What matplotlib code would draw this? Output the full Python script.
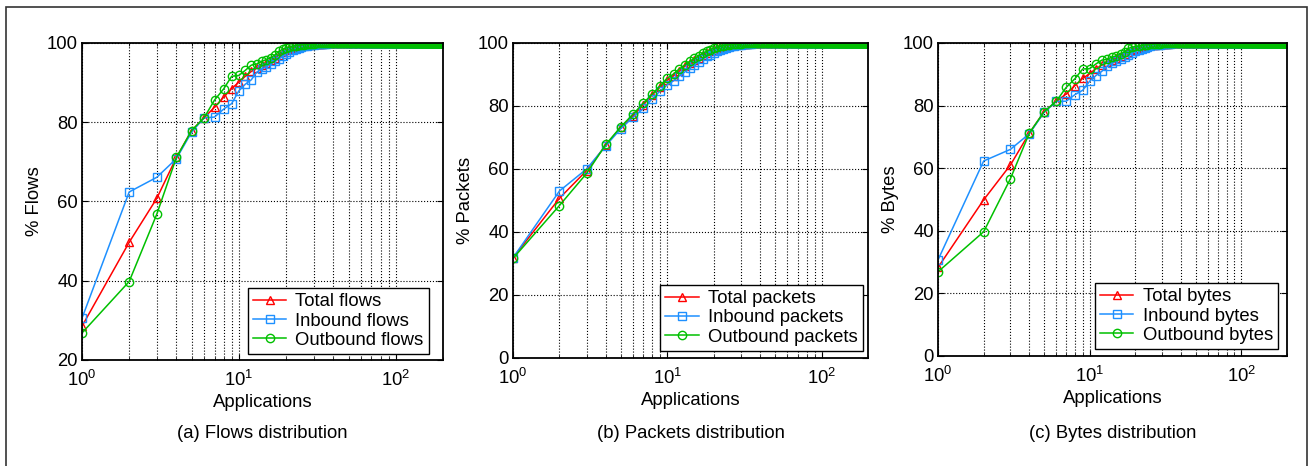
import matplotlib
matplotlib.use("Agg")
import matplotlib.pyplot as plt
from matplotlib.patches import Rectangle

plt.rcParams['font.family'] = ['Liberation Sans', 'DejaVu Sans']
plt.rcParams['mathtext.default'] = 'regular'

# number of applications (x = 1..N)
n_apps = 200
tail_value = 100.0     # values past the first 40 apps sit at 100 %

# flows distribution (cumulative %)
total_flows = [28.5, 49.7, 60.8, 71.1, 77.9, 81.1, 83.8, 86.3, 88.5, 90.1,
               91.6, 92.8, 93.7, 94.5, 95.0, 95.7, 96.3, 97.0, 97.6, 98.2,
               98.5, 98.8, 99.0, 99.2, 99.3, 99.4, 99.5, 99.6, 99.65, 99.7,
               99.75, 99.8, 99.82, 99.85, 99.87, 99.9, 99.92, 99.94, 99.96, 99.98]
inbound_flows = [30.5, 62.4, 66.1, 70.8, 77.5, 81.1, 81.3, 83.3, 84.7, 87.9,
                 89.6, 90.7, 92.6, 93.4, 94.0, 94.7, 95.4, 96.0, 96.6, 97.3,
                 97.8, 98.2, 98.5, 98.8, 99.0, 99.2, 99.3, 99.4, 99.5, 99.6,
                 99.65, 99.7, 99.75, 99.8, 99.83, 99.86, 99.9, 99.92, 99.95, 99.97]
outbound_flows = [26.8, 39.8, 56.8, 71.1, 77.9, 81.1, 85.6, 88.4, 91.6, 91.8,
                  93.1, 94.4, 94.7, 95.4, 95.8, 96.3, 97.0, 97.9, 98.4, 98.8,
                  99.0, 99.2, 99.35, 99.45, 99.55, 99.6, 99.7, 99.75, 99.8, 99.85,
                  99.87, 99.9, 99.92, 99.94, 99.95, 99.96, 99.97, 99.98, 99.99, 100.0]

# packets distribution
total_packets = [31.8, 50.7, 59.5, 67.6, 73.2, 76.9, 80.4, 83.6, 86.0, 88.2,
                 89.6, 91.1, 92.6, 93.6, 94.6, 95.3, 96.2, 96.8, 97.5, 97.9,
                 98.3, 98.6, 98.9, 99.1, 99.3, 99.4, 99.5, 99.6, 99.65, 99.7,
                 99.75, 99.8, 99.83, 99.86, 99.88, 99.9, 99.92, 99.94, 99.96, 99.98]
inbound_packets = [31.8, 53.0, 60.0, 67.4, 72.8, 76.4, 79.2, 82.3, 84.8, 86.7,
                   88.0, 89.6, 90.8, 92.2, 93.1, 94.1, 94.9, 95.8, 96.3, 96.8,
                   97.3, 97.7, 98.1, 98.4, 98.7, 98.9, 99.1, 99.25, 99.4, 99.5,
                   99.6, 99.65, 99.7, 99.75, 99.8, 99.84, 99.88, 99.92, 99.95, 99.97]
outbound_packets = [31.6, 48.4, 58.6, 67.8, 73.4, 77.4, 80.9, 83.8, 86.4, 88.8,
                    90.2, 91.8, 93.0, 94.2, 95.1, 96.0, 96.8, 97.3, 97.9, 98.3,
                    98.6, 98.9, 99.1, 99.3, 99.45, 99.55, 99.65, 99.7, 99.75, 99.8,
                    99.84, 99.87, 99.9, 99.92, 99.94, 99.95, 99.96, 99.97, 99.98, 99.99]

# bytes distribution
total_bytes = [28.3, 49.9, 61.0, 71.2, 78.0, 81.3, 83.7, 86.4, 88.7, 90.2,
               91.8, 92.9, 93.8, 94.6, 95.2, 95.8, 96.4, 97.1, 97.7, 98.2,
               98.5, 98.8, 99.0, 99.2, 99.3, 99.4, 99.5, 99.6, 99.65, 99.7,
               99.75, 99.8, 99.82, 99.85, 99.87, 99.9, 99.92, 99.94, 99.96, 99.98]
inbound_bytes = [30.7, 62.3, 66.0, 71.0, 77.8, 81.3, 81.4, 83.5, 84.9, 87.8,
                 89.6, 90.9, 92.6, 93.5, 94.2, 94.9, 95.5, 96.1, 96.7, 97.3,
                 97.8, 98.2, 98.5, 98.8, 99.0, 99.2, 99.3, 99.4, 99.5, 99.6,
                 99.65, 99.7, 99.75, 99.8, 99.83, 99.86, 99.9, 99.92, 99.95, 99.97]
outbound_bytes = [26.9, 39.7, 56.6, 71.2, 78.0, 81.3, 85.8, 88.6, 91.7, 91.8,
                  93.3, 94.5, 94.8, 95.5, 95.9, 96.5, 97.2, 98.3, 98.6, 98.9,
                  99.0, 99.2, 99.35, 99.45, 99.55, 99.6, 99.7, 99.75, 99.8, 99.85,
                  99.87, 99.9, 99.92, 99.94, 99.95, 99.96, 99.97, 99.98, 99.99, 100.0]

panel_names = ['flows', 'packets', 'bytes']
y_labels = ['% Flows', '% Packets', '% Bytes']
captions = ['(a) Flows distribution', '(b) Packets distribution', '(c) Bytes distribution']
y_mins = [20, 0, 0]

RED = '#ff0000'
BLUE = '#1e90ff'
GREEN = '#00c000'
FS = 13.3


def full_series(head):
    # head values followed by the saturated part of the curve
    return head + [tail_value] * (n_apps - len(head))


apps = list(range(1, n_apps + 1))
series = [
    (total_flows, inbound_flows, outbound_flows),
    (total_packets, inbound_packets, outbound_packets),
    (total_bytes, inbound_bytes, outbound_bytes),
]

positions = [
    [0.0625, 0.2275, 0.2754, 0.6803],
    [0.3913, 0.2318, 0.2708, 0.6760],
    [0.7155, 0.2361, 0.2662, 0.6717],
]
legend_anchor = [(0.961, 0.019), (0.985, 0.023), (0.974, 0.022)]

fig = plt.figure(figsize=(13.11, 4.66), dpi=100)

for i in range(3):
    ax = fig.add_axes(positions[i])
    tot, inb, outb = series[i]
    name = panel_names[i]
    ax.plot(apps, full_series(tot), '-^', color=RED, mfc='none', ms=6, lw=1.1,
            mew=1.0, label='Total ' + name)
    ax.plot(apps, full_series(inb), '-s', color=BLUE, mfc='none', ms=6, lw=1.1,
            mew=1.0, label='Inbound ' + name)
    ax.plot(apps, full_series(outb), '-o', color=GREEN, mfc='none', ms=6, lw=1.1,
            mew=1.0, label='Outbound ' + name)

    ax.set_xscale('log')
    ax.set_xlim(1, n_apps)
    ax.set_ylim(y_mins[i], 100)
    ax.set_yticks(range(y_mins[i], 101, 20))
    ax.set_xticks([1, 10, 100])
    ax.set_xticklabels(['$10^0$', '$10^1$', '$10^2$'])

    ax.grid(True, which='major', color='black', ls=':', lw=0.8)
    ax.grid(True, which='minor', axis='x', color='black', ls=':', lw=0.8)
    ax.tick_params(which='both', direction='in', top=True, right=True, labelsize=FS)
    ax.tick_params(which='major', length=4)
    ax.tick_params(axis='y', pad=3)
    ax.tick_params(axis='x', pad=7)
    ax.tick_params(which='minor', length=2)
    for sp in ax.spines.values():
        sp.set_linewidth(1.3)

    ax.set_xlabel('Applications', fontsize=FS, labelpad=3)
    ax.set_ylabel(y_labels[i], fontsize=FS, labelpad=3)

    leg = ax.legend(loc='lower right', bbox_to_anchor=legend_anchor[i], borderaxespad=0,
                    fontsize=FS, fancybox=False, edgecolor='black', framealpha=1,
                    handlelength=1.8, handletextpad=0.5, labelspacing=0.12,
                    borderpad=0.28)
    leg.get_frame().set_linewidth(1.0)

    cx = positions[i][0] + positions[i][2] / 2
    fig.text(cx, 1 - 433 / 466, captions[i], ha='center', va='center', fontsize=FS)

# outer frame around the whole figure (bottom edge is off the picture)
fig.patches.append(Rectangle((6 / 1311, -0.05), 1301 / 1311, 1.035, transform=fig.transFigure,
                             fill=False, edgecolor='#333333', lw=1.2))

fig.savefig('out.png', dpi=100)
